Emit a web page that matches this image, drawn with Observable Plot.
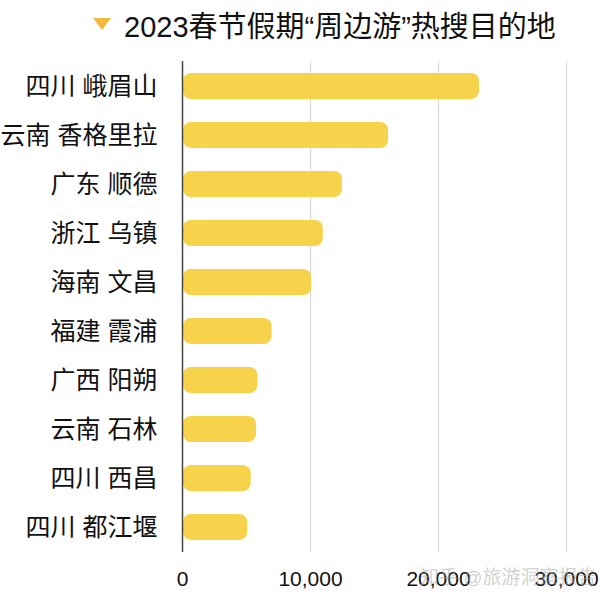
<!DOCTYPE html>
<html>
<head>
<meta charset="utf-8">
<script src="https://cdn.jsdelivr.net/npm/d3@7"></script>
<script src="https://cdn.jsdelivr.net/npm/@observablehq/plot@0.6"></script>
<style>
  body { margin: 0; background: #fff; }
  #wrap { position: relative; width: 600px; height: 594px; font-family: "Liberation Sans", "Noto Sans CJK SC", sans-serif; }
  #title { position: relative; height: 50px; }
  #tri { position: absolute; left: 93px; top: 18px; width: 0; height: 0;
         border-left: 9px solid transparent; border-right: 9px solid transparent; border-top: 12px solid #F2B73C; }
  #ttext { position: absolute; left: 124px; top: 3px; font-size: 29px; color: #111; white-space: nowrap; }
  #wm { position: absolute; left: 420px; top: 562px; font-size: 19px; color: rgba(170,170,170,0.55); white-space: nowrap; }
</style>
</head>
<body>
<div id="wrap">
  <div id="title"><div id="tri"></div><div id="ttext">2023春节假期“周边游”热搜目的地</div></div>
  <div id="chart"></div>
  <div id="wm">知乎 @旅游洞察报告</div>
</div>
<script>
const places = ["四川 峨眉山", "云南 香格里拉", "广东 顺德", "浙江 乌镇", "海南 文昌", "福建 霞浦", "广西 阳朔", "云南 石林", "四川 西昌", "四川 都江堰"];
const values = [23200, 16100, 12500, 11000, 10100, 7000, 5900, 5780, 5370, 5100];
const xTicks = [0, 10000, 20000, 30000];

const data = places.map((p, i) => ({place: p, value: values[i]}));

const chart = Plot.plot({
  width: 600,
  height: 544,
  marginLeft: 182,
  marginRight: 34,
  marginTop: 11,
  marginBottom: 42,
  style: {fontFamily: "'Liberation Sans', 'Noto Sans CJK SC', sans-serif", color: "#111", background: "#fff", overflow: "visible"},
  x: {domain: [0, 30000], ticks: xTicks},
  y: {domain: places, paddingInner: 0.46, paddingOuter: 0.23},
  marks: [
    Plot.gridX(xTicks.slice(1), {stroke: "#d4d4d4", strokeOpacity: 1, strokeWidth: 1}),
    Plot.barX(data, {x: "value", y: "place", fill: "#F6D34A", rx: 8, insetLeft: 1}),
    Plot.ruleX([0], {stroke: "#444", strokeWidth: 1.5}),
    Plot.axisX(xTicks, {tickSize: 0, tickPadding: 19, fontSize: 21, tickFormat: d3.format(","), label: null, fill: "#111"}),
    Plot.axisY({tickSize: 0, tickPadding: 25, fontSize: 25, label: null, fill: "#111"})
  ]
});
document.getElementById("chart").appendChild(chart);
</script>
</body>
</html>
